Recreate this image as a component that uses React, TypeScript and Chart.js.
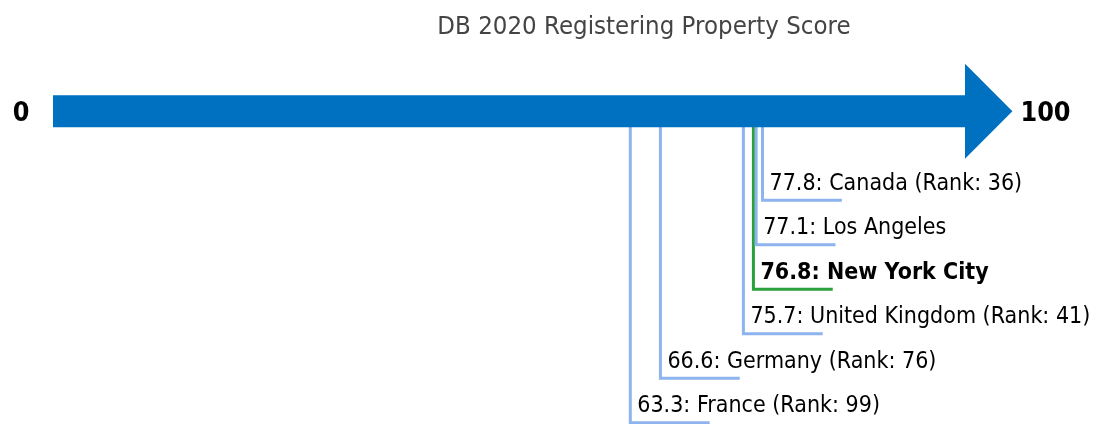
import React, { useEffect, useRef } from "react";
import { Chart, registerables } from "chart.js";

Chart.register(...registerables);

// ---- data ----
const names = ["Canada", "Los Angeles", "New York City", "United Kingdom", "Germany", "France"];
const scores = [77.8, 77.1, 76.8, 75.7, 66.6, 63.3];
const ranks: (number | null)[] = [36, null, null, 41, 76, 99];
const highlight = [false, false, true, false, false, false];
const axisMin = 0;
const axisMax = 100;
const titleText = "DB 2020 Registering Property Score";

const FONT = "'DejaVu Sans', 'Noto Sans', sans-serif";
const BLUE_LINE = "#8db4ee";
const GREEN_LINE = "#2ca03c";
const ARROW = "#0070c0";
const TEXT_STRETCH = 1.11;

export default function App() {
  const ref = useRef<HTMLCanvasElement | null>(null);

  useEffect(() => {
    if (!ref.current) return;
    const firstRow = 2;
    const hookLen = 8.7;
    const shaftHalf = 0.36;
    const headHalf = 1.067;
    const headTip = axisMax + 5.2;

    const connectorSets = scores.map((v, i) => {
      const row = firstRow + i;
      return {
        data: [
          { x: v, y: 0 },
          { x: v, y: row },
          { x: v + hookLen, y: row },
        ],
        borderColor: highlight[i] ? GREEN_LINE : BLUE_LINE,
        borderWidth: 3,
        pointRadius: 0,
        fill: false,
        tension: 0,
        order: 1,
      };
    });

    const arrowSet = {
      data: [
        { x: axisMin, y: -shaftHalf },
        { x: axisMax, y: -shaftHalf },
        { x: axisMax, y: -headHalf },
        { x: headTip, y: 0 },
        { x: axisMax, y: headHalf },
        { x: axisMax, y: shaftHalf },
        { x: axisMin, y: shaftHalf },
        { x: axisMin, y: -shaftHalf },
      ],
      borderColor: ARROW,
      backgroundColor: ARROW,
      borderWidth: 0,
      pointRadius: 0,
      fill: "shape",
      tension: 0,
      order: 0,
    };

    const drawText = (ctx: any, txt: string, x: number, y: number) => {
      ctx.save();
      ctx.translate(x, y);
      ctx.scale(1, TEXT_STRETCH);
      ctx.fillText(txt, 0, 0);
      ctx.restore();
    };

    const labelPlugin = {
      id: "labels",
      afterDatasetsDraw(chart: any) {
        const ctx = chart.ctx;
        const xs = chart.scales.x;
        const ys = chart.scales.y;
        ctx.save();
        ctx.textBaseline = "alphabetic";
        // title
        ctx.font = "23px " + FONT;
        ctx.fillStyle = "#444";
        ctx.textAlign = "center";
        drawText(ctx, titleText, 644, 34);

        scores.forEach((v, i) => {
          const row = firstRow + i;
          const px = xs.getPixelForValue(v) + 7;
          const py = ys.getPixelForValue(row) - 10.4;
          const txt =
            v.toFixed(1) + ": " + names[i] + (ranks[i] != null ? " (Rank: " + ranks[i] + ")" : "");
          ctx.font = (highlight[i] ? "bold " : "") + "20.7px " + FONT;
          ctx.fillStyle = "#000";
          ctx.textAlign = "left";
          drawText(ctx, txt, px, py);
        });
        ctx.font = "bold 24px " + FONT;
        ctx.fillStyle = "#000";
        const cy = ys.getPixelForValue(0) + 9.5;
        ctx.textAlign = "center";
        drawText(ctx, String(axisMin), xs.getPixelForValue(axisMin) - 32, cy);
        ctx.textAlign = "left";
        drawText(ctx, String(axisMax), xs.getPixelForValue(headTip) + 8, cy);
        ctx.restore();
      },
    };

    const chart = new Chart(ref.current, {
      type: "line",
      data: { datasets: [...connectorSets, arrowSet] as any },
      options: {
        animation: false,
        responsive: false,
        layout: { padding: { top: 39.6, left: 0, right: 0, bottom: 0 } },
        scales: {
          x: { type: "linear", min: -5.811, max: 114.254, display: false },
          y: { type: "linear", min: -1.609, max: 7.029, reverse: true, display: false },
        },
        plugins: {
          legend: { display: false },
          tooltip: { enabled: false },
          title: { display: false },
        },
      } as any,
      plugins: [labelPlugin],
    });
    return () => chart.destroy();
  }, []);

  return (
    <div style={{ position: "absolute", left: 0, top: 0, width: 1095, height: 424, background: "#fff" }}>
      <canvas ref={ref} width={1095} height={424} />
    </div>
  );
}
